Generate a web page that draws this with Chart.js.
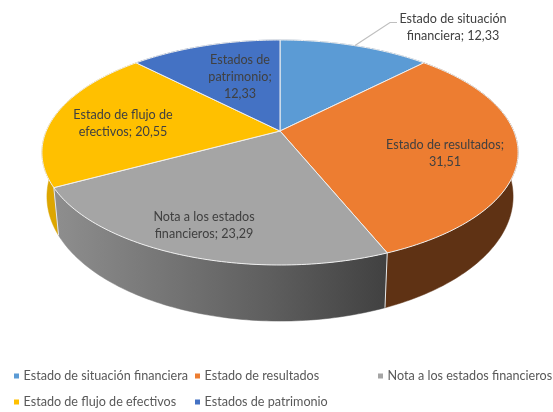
<!DOCTYPE html>
<html><head><meta charset="utf-8">
<script src="https://cdn.jsdelivr.net/npm/chart.js@4/dist/chart.umd.min.js"></script>
<style>html,body{margin:0;padding:0;background:#fff}canvas{display:block}</style>
</head><body><canvas id="c" width="553" height="412"></canvas>
<script>
const categories = ["Estado de situación financiera","Estado de resultados","Nota a los estados financieros","Estado de flujo de efectivos","Estados de patrimonio"];
const values = [12.33,31.51,23.29,20.55,12.33];
const topColors = ["#5B9BD5","#ED7D31","#A5A5A5","#FFC000","#4472C4"];
const wallColors = ["#37618A","#5F3214","#666666","#DDA600","#2B4A80"];

// perspective of the disc
const V = {cx:280, cy:131, a:233.7, b:108.4, k:-0.191, ecy:152, wcy:196, wsx:0.979, wsy:1.107};
function rim(t){const X=Math.cos(t),Y=Math.sin(t),d=1+V.k*Y;return [V.cx+V.a*X/d, V.cy+V.b*Y/d];}
function base(p){return [V.cx+(p[0]-V.cx)*V.wsx, V.wcy+(p[1]-V.ecy)*V.wsy];}
function rimPoints(s,e){const n=Math.max(2,Math.ceil((e-s)/(Math.PI/180)));const o=[];for(let i=0;i<=n;i++)o.push(rim(s+(e-s)*i/n));return o;}

class Arc3D extends Chart.ArcElement{
  draw(ctx){
    const {startAngle,endAngle}=this.getProps(['startAngle','endAngle']);
    const o=this.options;
    ctx.save();
    ctx.beginPath();
    ctx.moveTo(V.cx,V.cy);
    rimPoints(startAngle,endAngle).forEach(p=>ctx.lineTo(p[0],p[1]));
    ctx.closePath();
    ctx.fillStyle=o.backgroundColor;ctx.fill();
    ctx.strokeStyle=o.borderColor;ctx.lineWidth=o.borderWidth;ctx.lineJoin='round';ctx.stroke();
    ctx.restore();
  }
}
Arc3D.id='arc3d';
class Pie3D extends Chart.PieController{}
Pie3D.id='pie3d';
Pie3D.defaults={dataElementType:'arc3d'};
Chart.register(Arc3D,Pie3D);

const walls={id:'walls',beforeDatasetsDraw(chart){
  const ctx=chart.ctx,arcs=chart.getDatasetMeta(0).data;
  [0,4,3,1,2].forEach(i=>{
    const a=arcs[i],pts=rimPoints(a.startAngle,a.endAngle);
    ctx.beginPath();
    pts.forEach((p,j)=>j?ctx.lineTo(p[0],p[1]):ctx.moveTo(p[0],p[1]));
    pts.slice().reverse().forEach(p=>{const q=base(p);ctx.lineTo(q[0],q[1]);});
    ctx.closePath();
    let fill=wallColors[i];
    if(i===2){const g=ctx.createLinearGradient(55,0,386,0);g.addColorStop(0,'#8E8E8E');g.addColorStop(0.65,'#5E5E5E');g.addColorStop(1,'#414141');fill=g;}
    ctx.fillStyle=fill;ctx.fill();
    ctx.strokeStyle=fill;ctx.lineWidth=0.5;ctx.stroke();
  });
  // white seams where front faces meet
  ctx.strokeStyle='#E8E8E8';ctx.lineWidth=1;
  [arcs[2].startAngle,arcs[2].endAngle].forEach(t=>{
    const p=rim(t),q=base(p);ctx.beginPath();ctx.moveTo(p[0],p[1]);ctx.lineTo(q[0],q[1]);ctx.stroke();
  });
}};

const labelFont='12.6px Lato, sans-serif';
const labelLayout=[
 {x:453,y:19,w:118},{x:445,y:145,w:130},{x:204,y:217,w:115},{x:123,y:115,w:118},{x:240,y:60,w:72}
];
function fmt(v){return String(v).replace('.',',');}
function wrap(ctx,text,w){const out=[];let line='';text.split(' ').forEach(word=>{const t=line?line+' '+word:word;if(ctx.measureText(t).width>w&&line){out.push(line);line=word;}else line=t;});out.push(line);return out;}
const labels={id:'labels',afterDatasetsDraw(chart){
  const ctx=chart.ctx;
  ctx.save();
  ctx.strokeStyle='#BFBFBF';ctx.lineWidth=1.2;
  ctx.beginPath();ctx.moveTo(355,45.5);ctx.lineTo(390,22.5);ctx.lineTo(397,22.5);ctx.stroke();
  ctx.font=labelFont;ctx.textAlign='center';ctx.textBaseline='middle';ctx.fillStyle='#404040';
  categories.forEach((c,i)=>{
    const L=labelLayout[i];
    wrap(ctx,c+'; '+fmt(values[i]),L.w).forEach((s,j)=>ctx.fillText(s,L.x,L.y+j*17));
  });
  ctx.restore();
}};

const legendLayout=[[14,376],[195,376],[378,376],[14,402],[195,402]];
const legend3d={id:'legend3d',afterDraw(chart){
  const ctx=chart.ctx;
  ctx.save();
  ctx.font='12.6px Lato, sans-serif';ctx.textAlign='left';ctx.textBaseline='middle';
  categories.forEach((c,i)=>{
    const [x,y]=legendLayout[i];
    ctx.fillStyle=topColors[i];ctx.fillRect(x,y-2.5,5,5);
    ctx.fillStyle='#595959';ctx.fillText(c,x+9.5,y);
  });
  ctx.restore();
}};

new Chart(document.getElementById('c'),{
  type:'pie3d',
  data:{labels:categories,datasets:[{data:values,backgroundColor:topColors,borderColor:'#F0F0F0',borderWidth:1}]},
  options:{responsive:false,animation:false,layout:{padding:0},
    plugins:{legend:{display:false},tooltip:{enabled:false},title:{display:false}}},
  plugins:[{id:'bg',beforeDraw(c){c.ctx.fillStyle='#fff';c.ctx.fillRect(0,0,c.width,c.height);}},walls,labels,legend3d]
});
</script></body></html>
